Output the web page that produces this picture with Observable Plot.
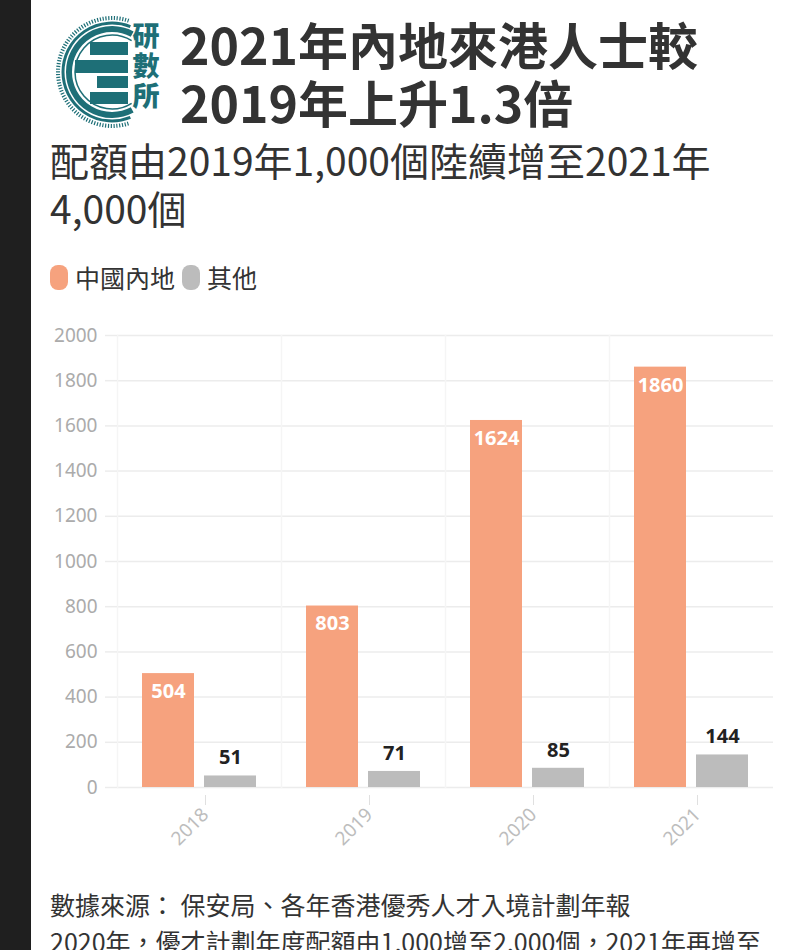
<!DOCTYPE html>
<html>
<head>
<meta charset="utf-8">
<script src="https://cdn.jsdelivr.net/npm/d3@7"></script>
<script src="https://cdn.jsdelivr.net/npm/@observablehq/plot@0.6"></script>
<style>
  html, body { margin: 0; padding: 0; background: #fff; }
  body { width: 800px; height: 950px; overflow: hidden; position: relative; font-family: "Noto Sans CJK TC", "Noto Sans", sans-serif; color: #333; }
  #strip { position: absolute; left: 0; top: 0; width: 31px; height: 950px; background: #1f1f1f; }
  #title { position: absolute; left: 180px; top: 14px; font-size: 50px; font-weight: 700; line-height: 58px; color: #333; white-space: nowrap; }
  #subtitle { position: absolute; left: 50px; top: 135px; font-size: 39px; font-weight: 400; line-height: 48px; color: #333; white-space: nowrap; }
  #legend { position: absolute; left: 50px; top: 259px; display: flex; align-items: center; font-size: 25px; color: #333; }
  .sw { display: inline-block; width: 18px; height: 25px; border-radius: 8px; margin-right: 7px; }
  .lab { margin-right: 7px; }
  #chart { position: absolute; left: 0; top: 310px; }
  #footer { position: absolute; left: 50px; top: 886px; font-size: 25px; line-height: 37px; color: #333; white-space: nowrap; }
</style>
</head>
<body>
<div id="strip"></div>
<svg id="logo" width="180" height="135" style="position:absolute;left:0;top:0">
  <g fill="none" stroke="#1e6f77">
    <path id="arcOuter" stroke-width="4" stroke-dasharray="1.2 1.6"></path>
    <path id="arcMid" stroke-width="3"></path>
    <path id="arcThick" stroke-width="6"></path>
    <path id="arcInner" stroke-width="1.5"></path>
  </g>
  <g fill="#1e6f77">
    <rect x="90" y="42" width="38" height="13"></rect>
    <rect x="75" y="60" width="53" height="13"></rect>
    <rect x="97" y="76" width="31" height="12"></rect>
    <rect x="90" y="92" width="38" height="12"></rect>
    <text x="146" y="22" font-size="27" font-weight="900" letter-spacing="3" font-family="Noto Sans CJK SC" style="writing-mode: vertical-rl">研數所</text>
  </g>
</svg>
<div id="title">2021年內地來港人士較<br>2019年上升1.3倍</div>
<div id="subtitle">配額由2019年1,000個陸續增至2021年<br>4,000個</div>
<div id="legend"></div>
<div id="chart"></div>
<div id="footer">數據來源： 保安局、各年香港優秀人才入境計劃年報<br>2020年，優才計劃年度配額由1,000增至2,000個，2021年再增至</div>
<script>
// ---- data ----
const years = ["2018", "2019", "2020", "2021"];
const mainland = [504, 803, 1624, 1860];
const others = [51, 71, 85, 144];
const seriesNames = ["中國內地", "其他"];
const seriesColors = ["#f6a27e", "#bcbcbc"];
const yTicks = [0, 200, 400, 600, 800, 1000, 1200, 1400, 1600, 1800, 2000];

// logo arcs
function arcPath(cx, cy, r, a0, a1) {
  const rad = d => d * Math.PI / 180;
  const x0 = cx + r * Math.cos(rad(a0)), y0 = cy + r * Math.sin(rad(a0));
  const x1 = cx + r * Math.cos(rad(a1)), y1 = cy + r * Math.sin(rad(a1));
  return `M${x0},${y0} A${r},${r} 0 1 0 ${x1},${y1}`;
}
document.getElementById("arcOuter").setAttribute("d", arcPath(112, 72, 54, -72, 72));
document.getElementById("arcMid").setAttribute("d", arcPath(112, 72, 49, -68, 68));
document.getElementById("arcThick").setAttribute("d", arcPath(112, 72, 43, -62, 62));
document.getElementById("arcInner").setAttribute("d", arcPath(112, 72, 37, -58, 58));

// legend
const legend = document.getElementById("legend");
seriesNames.forEach((s, i) => {
  const sw = document.createElement("span");
  sw.className = "sw"; sw.style.background = seriesColors[i];
  const lab = document.createElement("span");
  lab.className = "lab"; lab.textContent = s;
  legend.appendChild(sw); legend.appendChild(lab);
});

const data = years.flatMap((yr, i) => [
  {year: yr, series: seriesNames[0], value: mainland[i]},
  {year: yr, series: seriesNames[1], value: others[i]}
]);

const chart = Plot.plot({
  width: 800,
  height: 560,
  marginLeft: 117,
  marginRight: 27,
  marginTop: 25,
  marginBottom: 83,
  style: {fontFamily: "'Noto Sans', sans-serif", background: "transparent", overflow: "visible"},
  fx: {domain: years, padding: 0, label: null},
  x: {domain: seriesNames, paddingInner: 0.16, paddingOuter: 0.4, axis: null},
  y: {domain: [0, 2000], label: null, axis: null},
  color: {domain: seriesNames, range: seriesColors},
  marks: [
    Plot.gridY(yTicks, {stroke: "#ececec", strokeOpacity: 1, strokeWidth: 1.5}),
    Plot.frame({anchor: "left", stroke: "#f5f5f5", strokeWidth: 1.5}),
    Plot.axisY(yTicks, {tickSize: 12, tickPadding: 8, stroke: "#ececec", strokeWidth: 1.5, fill: "#ababab", fontSize: 19, label: null, tickFormat: d3.format("d")}),
    Plot.axisFx({anchor: "bottom", tickRotate: -45, tickSize: 10, tickPadding: 6, stroke: "#e0e0e0", fill: "#bdbdbd", fontSize: 19, label: null, dx: 6, dy: 8}),
    Plot.barY(data, {fx: "year", x: "series", y: "value", fill: "series"}),
    Plot.text(data.filter(d => d.series === seriesNames[0]), {
      fx: "year", x: "series", y: "value", text: d => String(d.value),
      dy: 18, fill: "#fff", fontWeight: "bold", fontSize: 20
    }),
    Plot.text(data.filter(d => d.series === seriesNames[1]), {
      fx: "year", x: "series", y: "value", text: d => String(d.value),
      dy: -18, fill: "#222", fontWeight: "bold", fontSize: 20
    })
  ]
});
document.getElementById("chart").appendChild(chart);
</script>
</body>
</html>
